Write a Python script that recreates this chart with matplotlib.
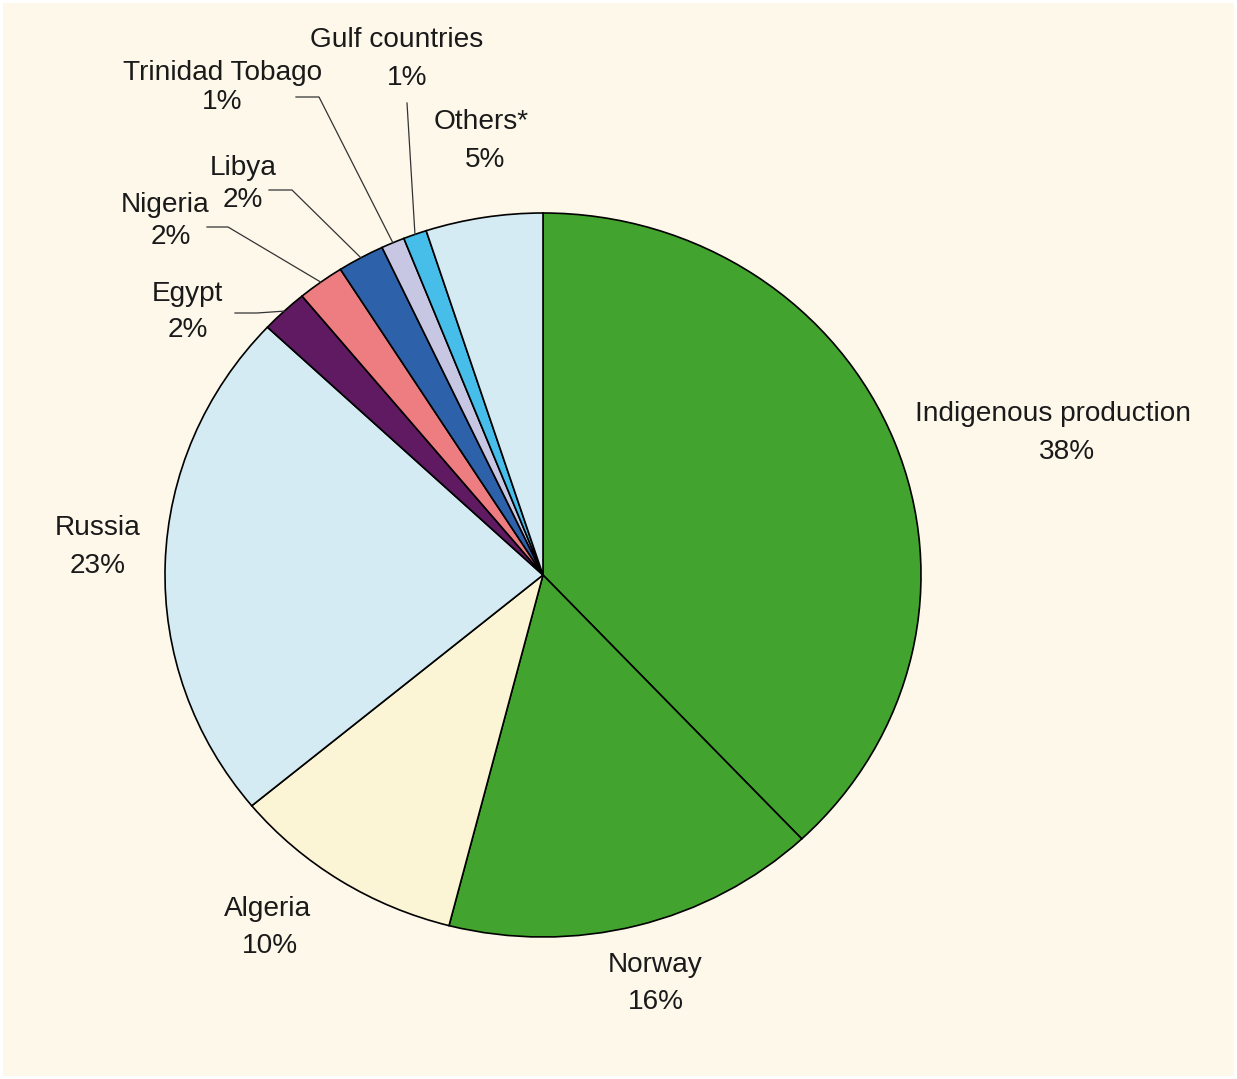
import matplotlib.pyplot as plt
import numpy as np

plt.rcParams['font.family'] = ['Liberation Sans', 'DejaVu Sans']

# data (clockwise from 12 o'clock)
labels = ["Indigenous production", "Norway", "Algeria", "Russia", "Egypt",
          "Nigeria", "Libya", "Trinidad Tobago", "Gulf countries", "Others*"]
shares = [38, 16, 10, 23, 2, 2, 2, 1, 1, 5]
colors = ["#42A42E", "#42A42E", "#FCF5D5", "#D4EBF3", "#5F1A62",
          "#EE7D82", "#2D62AA", "#C8C7E3", "#47BDE9", "#D4EBF3"]

W, H = 1237, 1079
bg = "#FEF8EB"
fig = plt.figure(figsize=(W / 100, H / 100), dpi=100)
fig.patch.set_facecolor("white")
fig.add_artist(plt.Rectangle((3 / W, 3 / H), 1 - 6 / W, 1 - 6 / H,
                             transform=fig.transFigure, facecolor=bg,
                             edgecolor="none", zorder=-10))

# pie bounds in pixels
cx, cy, rx, ry = 543, 575, 378, 362
ax = fig.add_axes([(cx - rx) / W, (H - cy - ry) / H, 2 * rx / W, 2 * ry / H])
wedges, _ = ax.pie(shares, colors=colors, startangle=90, counterclock=False,
                   wedgeprops=dict(edgecolor="black", linewidth=1.2))
ax.set_aspect("auto")
ax.set_xlim(-1, 1)
ax.set_ylim(-1, 1)
ax.set_facecolor("none")


def px(x, y):
    # pixel position -> data coords
    return (x - cx) / rx, (cy - y) / ry


# label positions (pixel centres of name line and percent line)
pos = {
    "Indigenous production": ((1053, 414), (1067, 452)),
    "Norway": ((655, 965), (656, 1002)),
    "Algeria": ((268, 909), (270, 946)),
    "Russia": ((98, 528), (98, 566)),
    "Egypt": ((187, 294), (188, 330)),
    "Nigeria": ((165, 205), (171, 237)),
    "Libya": ((243, 168), (243, 200)),
    "Trinidad Tobago": ((223, 73), (222, 102)),
    "Gulf countries": ((397, 40), (407, 78)),
    "Others*": ((481, 122), (485, 160)),
}
for lab, val in zip(labels, shares):
    (x1, y1), (x2, y2) = pos[lab]
    ax.text(*px(x1, y1), lab, ha="center", va="center", fontsize=20.2,
            color="#1a1a1a", clip_on=False)
    ax.text(*px(x2, y2), f"{val}%", ha="center", va="center", fontsize=20.2,
            color="#1a1a1a", clip_on=False)

# leader lines: start point, elbow point (pixels) -> wedge mid on the rim
leaders = {
    "Egypt": ((235, 313), (257, 313)),
    "Nigeria": ((207, 227), (228, 227)),
    "Libya": ((269, 190), (292, 190)),
    "Trinidad Tobago": ((296, 97), (319, 97)),
    "Gulf countries": ((407, 103), (407, 103)),
}
for w, lab in zip(wedges, labels):
    if lab not in leaders:
        continue
    a = np.deg2rad((w.theta1 + w.theta2) / 2)
    ex, ey = np.cos(a), np.sin(a)
    (sx, sy), (mx, my) = leaders[lab]
    p0, p1 = px(sx, sy), px(mx, my)
    ax.plot([p0[0], p1[0], ex], [p0[1], p1[1], ey], color="#333333",
            linewidth=0.9, clip_on=False)

fig.savefig("out.png", dpi=100, facecolor=fig.get_facecolor())
